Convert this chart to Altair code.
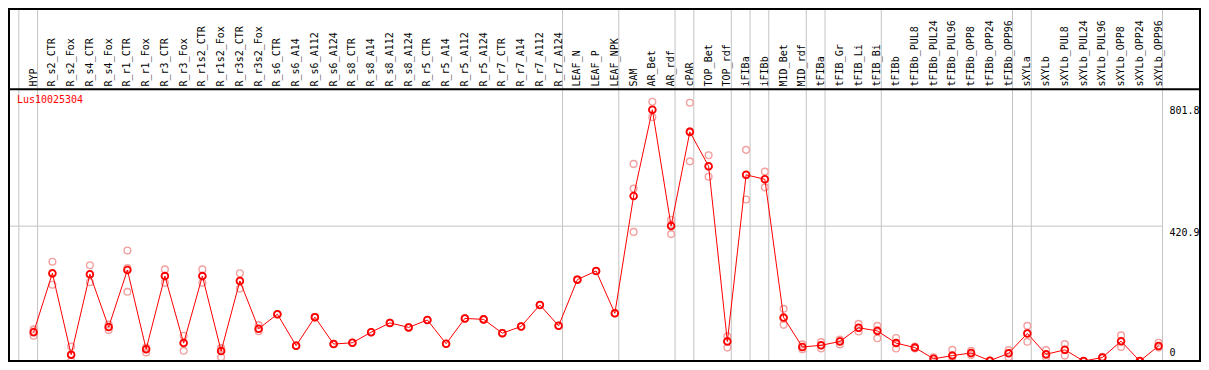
import altair as alt
import pandas as pd

# ---------------- data ----------------
samples = [
    "HYP", "R_s2_CTR", "R_s2_Fox", "R_s4_CTR", "R_s4_Fox", "R_r1_CTR", "R_r1_Fox",
    "R_r3_CTR", "R_r3_Fox", "R_r1s2_CTR", "R_r1s2_Fox", "R_r3s2_CTR", "R_r3s2_Fox",
    "R_s6_CTR", "R_s6_A14", "R_s6_A112", "R_s6_A124", "R_s8_CTR", "R_s8_A14",
    "R_s8_A112", "R_s8_A124", "R_r5_CTR", "R_r5_A14", "R_r5_A112", "R_r5_A124",
    "R_r7_CTR", "R_r7_A14", "R_r7_A112", "R_r7_A124", "LEAF_N", "LEAF_P", "LEAF_NPK",
    "SAM", "AR_Bet", "AR_rdf", "cPAR", "TOP_Bet", "TOP_rdf", "iFIBa", "iFIBb",
    "MID_Bet", "MID_rdf", "tFIBa", "tFIB_Gr", "tFIB_Li", "tFIB_Bi", "tFIBb",
    "tFIBb_PUL8", "tFIBb_PUL24", "tFIBb_PUL96", "tFIBb_OPP8", "tFIBb_OPP24",
    "tFIBb_OPP96", "sXYLa", "sXYLb", "sXYLb_PUL8", "sXYLb_PUL24", "sXYLb_PUL96",
    "sXYLb_OPP8", "sXYLb_OPP24", "sXYLb_OPP96",
]
group_sizes = [1, 28, 3, 3, 1, 2, 1, 1, 2, 1, 3, 7, 1, 7]

mean_vals = [
    90, 274, 20, 271, 106, 284, 37, 265, 56, 265, 31, 250, 101,
    146, 48, 137, 53, 57, 90, 119, 105, 128, 54, 133, 130, 87, 108, 175, 110,
    254, 281, 149,
    515, 784, 421, 715, 608, 61, 581, 567, 136, 44, 49, 61, 104, 94,
    56, 42, 7, 17, 25, 1, 24, 86, 21, 35, 0, 11, 62, 0, 47,
]
rep_a = [
    99, 310, 45, 299, 114, 345, 42, 286, 79, 286, 41, 274, 112,
    146, 48, 137, 53, 57, 90, 119, 105, 128, 54, 133, 130, 87, 108, 175, 110,
    254, 281, 149,
    615, 809, 441, 806, 642, 77, 659, 591, 163, 52, 59, 67, 116, 110,
    72, 45, 12, 35, 32, 1, 34, 110, 34, 53, 0, 13, 80, 0, 57,
]
rep_b = [
    79, 238, 0, 246, 97, 216, 27, 244, 32, 244, 12, 226, 93,
    146, 48, 137, 53, 57, 90, 119, 105, 128, 54, 133, 130, 87, 108, 175, 110,
    254, 281, 149,
    403, 761, 396, 623, 575, 42, 504, 542, 113, 37, 39, 52, 92, 71,
    39, 39, 0, 1, 19, 1, 12, 60, 12, 17, 0, 9, 44, 0, 42,
]
rep_c = [
    92, 272, 18, 270, 106, 290, 40, 266, 58, 266, 38, 250, 100,
    146, 48, 137, 53, 57, 90, 119, 105, 128, 54, 133, 130, 87, 108, 175, 110,
    254, 281, 149,
    538, 784, 426, 717, 607, 63, 580, 568, 132, 44, 49, 62, 103, 97,
    57, 42, 8, 15, 24, 1, 25, 88, 19, 34, 0, 11, 61, 0, 46,
]
tick_values = [801.8, 420.9, 0]
gene_title = "Lus10025304"

# ---------------- layout ----------------
REF_W, REF_H = 1209, 370
W, H = 1193, 354
kx, ky = W / REF_W, H / REF_H
X0, STEP = 26, 19            # reference px of first column and column step
Y0, PPU = 369, 0.335         # reference px of value 0 and px per unit

FONT = "DejaVu Sans Mono"
GRID = "#c4c4c4"

xs = alt.Scale(domain=[(0 - X0) / STEP, (REF_W - X0) / STEP], nice=False, zero=False)
ys = alt.Scale(domain=[(Y0 - REF_H) / PPU, Y0 / PPU], nice=False, zero=False)

df = pd.DataFrame({"i": list(range(len(samples))), "sample": samples, "v": mean_vals})
reps = pd.concat([
    pd.DataFrame({"i": list(range(len(samples))), "v": r}) for r in (rep_a, rep_b, rep_c)
])

# group boundaries (after the last column of each group, plus the start)
bounds = [-1]
acc = -1
for g in group_sizes:
    acc += g
    bounds.append(acc)
bdf = pd.DataFrame({"b": [b + 4 / STEP for b in bounds]})

one = pd.DataFrame({"a": [0]})
ticks_df = pd.DataFrame({"v": tick_values, "lab": [str(t) if t else "0" for t in tick_values]})
ticks_df["lab"] = ["801.8", "420.9", "0"]

vgrid = alt.Chart(bdf).mark_rule(color=GRID, strokeWidth=1).encode(
    x=alt.X("b:Q", scale=xs, axis=None),
    y=alt.value(0), y2=alt.value(H),
)
hgrid = alt.Chart(one).mark_rule(color=GRID, strokeWidth=1).encode(
    x=alt.value(kx * 1), x2=alt.value(kx * 1170),
    y=alt.YDatum(420.9, scale=ys, axis=None),
)
frame = alt.Chart(one).mark_rect(filled=False, stroke="black", strokeWidth=2).encode(
    x=alt.value(kx * 1), x2=alt.value(kx * 1208),
    y=alt.value(1), y2=alt.value(ky * 369),
)
sep = alt.Chart(one).mark_rule(color="black", strokeWidth=2).encode(
    x=alt.value(0), x2=alt.value(kx * 1208),
    y=alt.value(ky * 85),
)
header = alt.Chart(df).mark_text(
    angle=270, align="left", baseline="middle", font=FONT, fontSize=10, color="black"
).encode(
    x=alt.X("i:Q", scale=xs, axis=None),
    y=alt.value(ky * 82),
    text="sample:N",
)
rep_pts = alt.Chart(reps).mark_point(
    shape="circle", filled=False, color="#f2a0a0", size=45, strokeWidth=1.4, opacity=1
).encode(
    x=alt.X("i:Q", scale=xs, axis=None),
    y=alt.Y("v:Q", scale=ys, axis=None),
)
line = alt.Chart(df).mark_line(color="#ff0000", strokeWidth=1).encode(
    x=alt.X("i:Q", scale=xs, axis=None),
    y=alt.Y("v:Q", scale=ys, axis=None),
)
mean_pts = alt.Chart(df).mark_point(
    shape="circle", filled=False, color="#ff0000", size=45, strokeWidth=1.8, opacity=1
).encode(
    x=alt.X("i:Q", scale=xs, axis=None),
    y=alt.Y("v:Q", scale=ys, axis=None),
)
title_txt = alt.Chart(one).mark_text(
    align="left", baseline="top", font=FONT, fontSize=10, color="#ff0000"
).encode(
    x=alt.value(kx * 9), y=alt.value(ky * 91), text=alt.value(gene_title),
)
tick_top = alt.Chart(ticks_df).transform_filter("datum.v > 0").mark_text(
    align="left", baseline="top", font=FONT, fontSize=10, color="black", dy=2
).encode(
    x=alt.value(kx * 1177),
    y=alt.Y("v:Q", scale=ys, axis=None),
    text="lab:N",
)
tick_zero = alt.Chart(ticks_df).transform_filter("datum.v == 0").mark_text(
    align="left", baseline="bottom", font=FONT, fontSize=10, color="black", dy=-3
).encode(
    x=alt.value(kx * 1177),
    y=alt.Y("v:Q", scale=ys, axis=None),
    text="lab:N",
)

chart = alt.layer(
    vgrid, hgrid, header, rep_pts, line, mean_pts, title_txt, tick_top, tick_zero, sep, frame
).properties(
    width=W, height=H, padding=0, autosize=alt.AutoSizeParams(type="none"),
    background="white",
).configure_view(strokeWidth=0)

chart.save("out.html", embed_options={"renderer": "svg", "actions": False})
